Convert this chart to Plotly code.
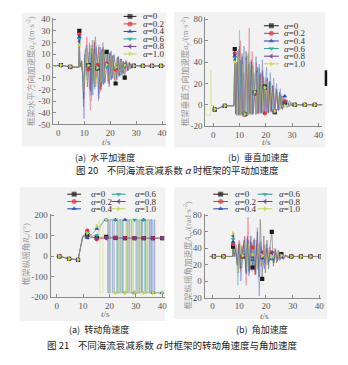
import plotly.graph_objects as go

W, H = 348, 365

alpha_labels = ["0", "0.2", "0.4", "0.6", "0.8", "1.0"]
colors = ["#1a1a1a", "#ef2f3c", "#2444b8", "#22a596", "#6a3b9f", "#c3d846"]
symbols = ["square", "circle", "triangle-up", "triangle-down", "triangle-left", "triangle-right"]

# ---------------- (a) horizontal acceleration ----------------
mark_t_a = [1, 4.6, 8.1, 11.6, 15.1, 18.6, 22.1, 25.6, 29.1, 32.6, 36.1, 39.6]
t_a0 = [-1.5, 1, 4.6, 7.9, 8.1, 8.3, 8.8, 9.4, 9.8, 10.2, 10.7, 11.2, 11.6, 12.0, 12.5, 13.0, 13.5, 14.0, 14.6, 15.1,
        15.6, 16.2, 16.8, 17.4, 18.0, 18.6, 19.2, 19.8, 20.4, 21.0, 21.6, 22.1, 22.7, 23.3, 23.9, 24.5, 25.0, 25.6,
        26.2, 26.8, 27.4, 28.0, 28.6, 29.1, 30.0, 32.6, 36.1, 39.6, 41]
v_a0 = [0, 0.8, -0.8, -1.2, 30, -1, 3, -8, -28, 6, 15, -18, 0.8, 12, -22, 18, -14, 20, -10, -2,
        16, -20, 14, -16, 10, 12, -13, 11, -12, 9, -10, -15, 7, -9, 6, -8, 4, -10,
        3, -4, 3, -2, 1, 0, 0.3, 0, 0, 0, 0]
t_a2 = [-1.5, 1, 4.6, 7.9, 8.1, 8.3, 8.9, 9.5, 10.0, 10.5, 11.0, 11.6, 12.4, 12.9, 13.4, 13.8, 14.4, 15.1, 15.7, 16.3,
        16.9, 17.5, 18.1, 18.6, 19.3, 19.9, 20.5, 21.1, 21.7, 22.1, 22.8, 23.4, 24.0, 24.6, 25.2, 25.6, 26.3, 27.0,
        27.7, 28.4, 29.1, 30.0, 32.6, 36.1, 39.6, 41]
v_a2 = [0, 0.6, -0.7, -1.1, 27, -1, 4, -6, -20, 8, 25, -3, -38, 10, -16, 22, -18, 1, 18, -22,
        15, -14, 12, 2, -15, 11, -10, 8, -12, -3, 7, -8, 6, -6, 4, 1, -5, 3,
        -3, 1, 0, 0.2, 0, 0, 0, 0]
t_a4 = [-1.5, 1, 4.6, 7.9, 8.1, 8.3, 9.0, 9.6, 9.9, 10.3, 10.9, 11.6, 12.1, 12.7, 13.3, 13.8, 14.3, 15.1, 15.6, 16.2,
        16.7, 17.2, 17.9, 18.6, 19.1, 19.7, 20.3, 20.9, 21.5, 22.1, 22.6, 23.2, 23.8, 24.4, 25.0, 25.6, 26.2, 26.9,
        27.6, 28.3, 29.1, 30.0, 32.6, 36.1, 39.6, 41]
v_a4 = [0, 0.7, -0.9, -1.3, 25, -1, 2, -10, -45, 12, 18, 0.5, -20, 15, -25, 10, 25, -1, -28, 16,
        -18, 20, -15, 1, 12, -16, 13, -11, 10, -2, -12, 8, -9, 6, -7, 1, 4, -4,
        2, -2, 0.5, 0, 0, 0, 0, 0]
t_a6 = [-1.5, 1, 4.6, 7.9, 8.1, 8.3, 9.1, 9.7, 10.4, 11.0, 11.6, 12.2, 12.8, 13.5, 14.1, 14.7, 15.1, 15.8, 16.5, 17.1,
        17.8, 18.6, 19.4, 20.0, 20.7, 21.4, 22.1, 22.9, 23.6, 24.3, 25.0, 25.6, 26.4, 27.2, 28.0, 29.1, 30.0, 32.6,
        36.1, 39.6, 41]
v_a6 = [0, 0.5, -0.8, -1.2, 23, -1, 5, -25, 14, -12, 0, 18, -30, 14, -20, 17, -2, -24, 13, -15,
        11, -1, 14, -12, 9, -10, -2, 8, -7, 5, -6, 0.5, 4, -3, 2, 0, 0, 0,
        0, 0, 0]
t_a8 = [-1.5, 1, 4.6, 7.9, 8.1, 8.3, 9.2, 9.7, 10.1, 10.8, 11.6, 12.0, 12.6, 13.2, 13.9, 14.5, 15.1, 15.5, 16.0, 16.6,
        17.3, 18.0, 18.6, 19.0, 19.6, 20.2, 20.8, 21.4, 22.1, 22.5, 23.1, 23.7, 24.3, 24.9, 25.6, 26.0, 26.7, 27.5,
        28.2, 29.1, 30.0, 32.6, 36.1, 39.6, 41]
v_a8 = [0, 0.6, -0.9, -1.1, 21, -1, 4, -35, 10, -8, -1, 20, -25, 22, -18, 15, -1, -30, 12, -20,
        16, -14, 1.5, 10, -18, 12, -10, 9, -1, -11, 8, -8, 6, -6, -0.5, 5, -4, 3,
        -1.5, 0.3, 0, 0, 0, 0, 0]
t_a10 = [-1.5, 1, 4.6, 7.9, 8.1, 8.3, 9.3, 9.9, 10.6, 11.2, 11.6, 12.3, 13.0, 13.6, 14.2, 14.9, 15.1, 15.9, 16.4, 17.0,
         17.7, 18.3, 18.6, 19.5, 20.1, 20.6, 21.2, 21.8, 22.1, 22.7, 23.5, 24.2, 24.8, 25.6, 26.5, 27.3, 28.1, 29.1,
         30.0, 32.6, 36.1, 39.6, 41]
v_a10 = [0, 0.7, -0.6, -1.0, 18, -1, 3, -22, 16, -14, 0.5, 12, 22, -20, 10, -16, -1.5, 14, -14, 12,
         -10, 8, 1, -12, 9, -9, 7, -8, -1, 6, -6, 5, -4, 0.5, 3, -2, 1, 0,
         0, 0, 0, 0, 0]

# ---------------- (b) vertical acceleration ----------------
mark_t_b = [0.6, 4.4, 8.2, 12.0, 15.8, 19.6, 23.4, 27.2, 31.0, 34.8, 38.6]
t_b0 = [0, 0.6, 4.4, 7.9, 8.2, 8.5, 9.0, 9.5, 10.0, 10.5, 11.0, 11.5, 12.0, 12.5, 13.0, 13.5, 14.0, 14.5, 15.0, 15.4,
        15.8, 16.3, 16.8, 17.3, 17.8, 18.3, 18.8, 19.2, 19.6, 20.1, 20.6, 21.1, 21.6, 22.1, 22.6, 23.0, 23.4, 24.0,
        24.6, 25.2, 25.8, 26.4, 27.2, 28.0, 28.8, 29.6, 31.0, 34.8, 38.6, 41.5]
v_b0 = [-1, -4.6, -1, -1, 52, -8, 40, -9, 55, -10, 45, -9, -9, 50, -10, 38, -8, 42, -9, 30,
        11.5, -9, 35, -8, 28, -7, 32, -7, 17, -8, 25, -7, 22, -6, 18, -5, -7, 15,
        -5, 12, -4, 8, 2, 5, -2, 2, 0, 0, 0, 0]
t_b2 = [0, 0.6, 4.4, 7.9, 8.2, 8.6, 9.2, 9.8, 10.4, 11.0, 11.6, 12.0, 12.6, 13.2, 13.7, 14.2, 14.8, 15.3, 15.8, 16.4,
        17.0, 17.6, 18.2, 18.8, 19.6, 20.2, 20.8, 21.4, 22.0, 22.6, 23.4, 24.1, 24.8, 25.5, 26.2, 27.2, 28.2, 29.2,
        31.0, 34.8, 38.6, 41.5]
v_b2 = [-1, -4.5, -1, -1, 48, -9, 38, -10, 60, -9, 30, -9, 45, -10, 72, -9, 50, -8, 10, 40,
        -8, 34, -8, 28, -8, 24, -7, 20, -6, 16, -6, 12, -5, 9, -4, 3, 1, -1,
        0, 0, 0, 0]
t_b4 = [0, 0.6, 4.4, 7.9, 8.2, 8.7, 9.3, 9.9, 10.5, 11.1, 11.7, 12.0, 12.7, 13.3, 13.9, 14.5, 15.1, 15.8, 16.3, 16.9,
        17.5, 18.1, 18.7, 19.3, 19.6, 20.3, 21.0, 21.7, 22.4, 23.0, 23.4, 24.1, 24.8, 25.5, 26.3, 27.2, 28.1, 29.0,
        30.0, 31.0, 34.8, 38.6, 41.5]
v_b4 = [-1, -4.4, -1, -1, 46, -9, 50, -10, 42, -9, 55, -8, -10, 48, -9, 40, -9, 12, 45, -9,
        38, -8, 42, -8, 15, 35, -8, 30, -7, 25, -6, 20, -6, 15, -5, 8, -3, 4,
        -1, 0, 0, 0, 0]
t_b6 = [0, 0.6, 4.4, 7.9, 8.2, 8.8, 9.4, 10.0, 10.6, 11.2, 11.8, 12.0, 12.8, 13.4, 14.0, 14.6, 15.2, 15.8, 16.5, 17.1,
        17.7, 18.4, 19.0, 19.6, 20.4, 21.1, 21.8, 22.5, 23.4, 24.2, 25.0, 25.8, 26.6, 27.2, 28.3, 29.5, 31.0, 34.8,
        38.6, 41.5]
v_b6 = [-1, -4.6, -1, -1, 44, -9, -10, 70, -9, 40, -9, -8, 46, -9, 36, -9, 40, 10, -8, 35,
        -8, 30, -7, 16, 26, -7, 22, -6, -5, 14, -5, 10, -3, 2, 3, 0, 0, 0,
        0, 0]
t_b8 = [0, 0.6, 4.4, 7.9, 8.2, 8.9, 9.6, 10.3, 11.0, 11.6, 12.0, 12.5, 13.1, 13.8, 14.4, 15.0, 15.8, 16.1, 16.7, 17.4,
        18.0, 18.6, 19.2, 19.6, 20.5, 21.2, 21.9, 22.7, 23.4, 24.3, 25.1, 26.0, 26.8, 27.2, 28.4, 29.6, 31.0, 34.8,
        38.6, 41.5]
v_b8 = [-1, -4.5, -1, -1, 42, -10, 52, -9, 48, -9, -9, 44, -10, 40, -9, 36, 11, -9, 32, -8,
        30, -8, 26, 17, -8, 22, -7, 18, -7, 12, -5, 8, -3, 2, 1, 0, 0, 0,
        0, 0]
t_b10 = [-2.8, -2.6, -1.0, -0.9, -0.6, 0.6, 4.4, 7.9, 8.2, 9.0, 9.7, 10.4, 11.1, 11.8, 12.0, 12.4, 13.0, 13.6, 14.3,
         15.0, 15.8, 16.2, 16.9, 17.6, 18.3, 19.0, 19.6, 20.6, 21.4, 22.2, 23.0, 23.4, 24.4, 25.3, 26.2, 27.2, 28.5,
         29.8, 31.0, 34.8, 38.6, 41.5]
v_b10 = [-1, -10, -10, 33, -2, -4.3, -1, -1, 40, -9, 45, -10, 38, -9, -9, 42, -9, 50, -9,
         34, 12, -8, 30, -8, 26, -7, 16, 22, -7, 18, -6, -6, 12, -5, 7, -1, 2,
         0, 0, 0, 0, 0]

# ---------------- (c) roll angle ----------------
mark_t_c = [1.0, 4.7, 8.1, 11.6, 15.2, 18.8, 22.3, 25.9, 29.5, 33.0, 36.5, 40.0]
t_c0 = [0, 1.0, 4.7, 8.1, 9.9, 11.6, 13.0, 15.2, 18.8, 22.3, 25.9, 29.5, 33.0, 36.5, 40.0]
v_c0 = [0, 0, -12, -17, 98, 105, 92, 90, 95, 90, 89, 89, 89, 89, 89]
t_c2 = [0, 1.0, 4.7, 8.1, 9.9, 11.6, 13.5, 15.2, 18.8, 22.3, 25.9, 29.5, 33.0, 36.5, 40.0]
v_c2 = [0, 0, -12, -17, 97, 125, 95, 83, 90, 90, 89, 89, 89, 89, 89]
t_c4 = [0, 1.0, 4.7, 8.1, 9.9, 11.6, 13.5, 15.2, 17.0, 18.5, 18.8,
        19.6, 19.6, 20.3, 20.3, 21.2, 21.2, 21.8, 21.8, 22.3,
        23.0, 23.0, 23.6, 23.6, 24.4, 24.4, 25.0, 25.0, 25.9,
        26.8, 26.8, 27.4, 27.4, 28.3, 28.3, 29.5,
        30.1, 30.1, 30.9, 30.9, 31.5, 31.5, 32.2, 32.2, 32.6, 32.6, 33.0,
        33.7, 33.7, 34.3, 34.3, 35.1, 35.1, 35.7, 35.7, 36.2, 36.2, 36.5,
        36.9, 36.9, 37.2, 37.2, 40.0]
v_c4 = [0, 0, -12, -17, 99, 90, 110, 135, 160, 178, 178,
        178, -178, -178, 178, 178, -178, -178, 178, 178,
        178, -178, -178, 178, 178, -178, -178, 178, 178,
        178, -178, -178, 178, 178, -178, -178,
        -178, 178, 178, -178, -178, 178, 178, -178, -178, 178, 178,
        178, -178, -178, 178, 178, -178, -178, 178, 178, -178, -178,
        -178, 178, 178, -178, -178]
t_c6 = [0, 1.0, 4.7, 8.1, 9.9, 11.6, 13.5, 15.2, 16.8, 18.0, 18.8,
        19.3, 19.3, 20.0, 20.0, 22.3, 22.8, 22.8, 24.1, 24.1, 25.2, 25.2, 25.9,
        26.3, 26.3, 27.6, 27.6, 29.0, 29.0, 29.5,
        30.5, 30.5, 32.0, 32.0, 33.0, 33.3, 33.3, 35.3, 35.3, 36.0, 36.0, 36.5, 40.0]
v_c6 = [0, 0, -12, -17, 98, 115, 100, 103, 150, 178, 178,
        178, -178, -178, 178, 178, 178, -178, -178, 178, 178, -178, -178,
        -178, 178, 178, -178, -178, 178, 178,
        178, -178, -178, 178, 178, 178, -178, -178, 178, 178, -178, -178, -178]
t_c8 = [0, 1.0, 4.7, 8.1, 9.9, 11.6, 13.5, 15.2, 18.8, 22.3, 25.9, 29.5, 33.0, 36.5, 40.0]
v_c8 = [0, 0, -12, -17, 96, 92, 94, 88, 88, 88, 88, 88, 88, 88, 88]
t_c10 = [0, 1.0, 4.7, 8.1, 9.9, 11.6, 13.5, 15.2, 16.3,
         16.4, 16.4, 17.5, 17.5, 18.8,
         19.9, 19.9, 20.7, 20.7, 21.5, 21.5, 22.3,
         23.3, 23.3, 24.0, 24.0, 24.7, 24.7, 25.4, 25.4, 25.9,
         26.5, 26.5, 27.0, 27.0, 27.8, 27.8, 28.8, 28.8, 29.5,
         31.2, 31.2, 31.8, 31.8, 33.0,
         34.0, 34.0, 34.6, 34.6, 36.5, 40.0]
v_c10 = [0, 0, -12, -17, 100, 112, 130, 148, 178,
         178, -178, -178, 178, 178,
         178, -178, -178, 178, 178, -178, -178,
         -178, 178, 178, -178, -178, 178, 178, -178, -178,
         -178, 178, 178, -178, -178, 178, 178, -178, -178,
         -178, 178, 178, -178, -178,
         -178, 178, 178, -178, -178, -178]

# ---------------- (d) angular acceleration ----------------
mark_t_d = [0.5, 4.1, 7.7, 11.3, 15.0, 18.6, 22.2, 25.8, 29.5, 33.1, 36.7, 40.3]
t_d0 = [-1, 0.5, 4.1, 7.5, 7.7, 8.0, 8.6, 9.2, 9.8, 10.4, 11.0, 11.3, 11.9, 12.5, 13.1, 13.7, 14.3, 15.0, 15.6, 16.2,
        16.8, 17.4, 17.9, 18.6, 19.2, 19.8, 20.4, 21.0, 21.6, 22.2, 22.8, 23.4, 24.0, 24.6, 25.2, 25.8, 26.5, 27.2,
        28.0, 29.5, 33.1, 36.7, 40.3]
v_d0 = [30, 30, 30, 30, 42, 30, 38, 20, 45, 15, 42, 30, 50, 10, 55, 12, 48, 16.6, 52, 8,
        60, 5, 75, 2.7, 55, 10, 50, 15, 45, 60, 18, 40, 22, 38, 25, 33, 27, 32,
        29, 30, 30, 30, 30]
t_d2 = [-1, 0.5, 4.1, 7.5, 7.7, 8.1, 8.7, 9.3, 9.9, 10.5, 11.1, 11.3, 12.0, 12.6, 13.3, 13.9, 14.5, 15.0, 15.7, 16.3,
        16.9, 17.5, 18.2, 18.6, 19.3, 20.0, 20.7, 21.4, 22.2, 22.9, 23.6, 24.3, 25.0, 25.8, 26.6, 27.4, 28.2, 29.5,
        33.1, 36.7, 40.3]
v_d2 = [30, 30, 30, 30, 45, 30, 40, 18, 50, 12, 44, 30, 55, -5, 78, 10, 55, 41, 8, 50,
        14, 46, 18, 30, 44, 20, 40, 24, 35, 22, 37, 25, 34, 30, 28, 31, 29, 30,
        30, 30, 30]
t_d4 = [-1, 0.5, 4.1, 7.5, 7.7, 8.2, 8.8, 9.4, 10.0, 10.6, 11.3, 11.8, 12.4, 13.0, 13.6, 14.2, 14.8, 15.0, 15.5, 16.1,
        16.8, 17.5, 18.1, 18.6, 19.4, 20.1, 20.8, 21.5, 22.2, 22.9, 23.6, 24.3, 25.1, 25.8, 26.6, 27.5, 28.4, 29.5,
        33.1, 36.7, 40.3]
v_d4 = [30, 30, 30, 30, 48, 30, 35, 22, 46, 0, 30, 48, 15, 52, 6, 55, 12, 26, 50, 8,
        65, -18, 48, 28, 15, 45, 20, 42, 27, 22, 38, 24, 36, 29, 26, 32, 29, 30,
        30, 30, 30]
t_d6 = [-1, 0.5, 4.1, 7.5, 7.7, 8.3, 8.9, 9.5, 10.1, 10.7, 11.3, 11.9, 12.6, 13.2, 13.8, 14.4, 15.0, 15.7, 16.4, 17.1,
        17.8, 18.6, 19.3, 20.0, 20.8, 21.5, 22.2, 23.0, 23.8, 24.6, 25.8, 26.7, 27.6, 28.5, 29.5, 33.1, 36.7, 40.3]
v_d6 = [30, 30, 30, 30, 51, 30, 40, -5, 45, 15, 32, 50, 12, 48, 10, 46, 28, 14, 44, 18,
        42, 30, 20, 40, 22, 38, 27, 24, 35, 26, 31, 28, 31, 30, 30, 30, 30, 30]
t_d8 = [-1, 0.5, 4.1, 7.5, 7.7, 8.4, 9.0, 9.6, 10.2, 10.8, 11.3, 12.1, 12.8, 13.5, 14.1, 14.7, 15.0, 15.8, 16.5, 17.2,
        17.9, 18.6, 19.5, 20.3, 21.0, 21.7, 22.2, 23.1, 23.9, 24.7, 25.8, 26.8, 27.7, 28.6, 29.5, 33.1, 36.7, 40.3]
v_d8 = [30, 30, 30, 30, 55, 30, 44, 10, 48, 16, 30, 54, 8, 50, 14, 47, 30, 12, 45, 16,
        43, 35, 22, 39, 24, 36, 34, 25, 34, 27, 31, 28, 31, 29, 30, 30, 30, 30]
t_d10 = [-1, 0.5, 4.1, 7.5, 7.7, 8.5, 9.1, 9.7, 10.3, 10.9, 11.3, 12.2, 12.9, 13.6, 14.3, 15.0, 15.9, 16.6, 17.3, 18.0,
         18.6, 19.6, 20.4, 21.2, 22.2, 23.2, 24.1, 25.0, 25.8, 26.9, 27.9, 29.5, 33.1, 36.7, 40.3]
v_d10 = [30, 30, 30, 30, 58, 30, 42, 12, 46, 18, 31, 48, 15, 46, 18, 32, 44, 17, 42, 20,
         31, 40, 22, 37, 30, 25, 35, 27, 31, 29, 31, 30, 30, 30, 30]

# tick values / labels
x_ticks = [0, 10, 20, 30, 40]
x_ticklab = ["0", "10", "20", "30", "40"]
y_ticks_a = [-50, -40, -30, -20, -10, 0, 10, 20, 30, 40]
y_ticks_b = [-20, 0, 20, 40, 60, 80]
y_ticks_c = [-200, -100, 0, 100, 200]
y_ticks_d = [-20, 0, 20, 40, 60, 80]

# ---------------- figure ----------------
def PX(x):
    return x / W


def PY(y):
    return 1 - y / H


fig = go.Figure()

panels = [
    ("x", "y", [(t_a0, v_a0), (t_a2, v_a2), (t_a4, v_a4), (t_a6, v_a6), (t_a8, v_a8), (t_a10, v_a10)], mark_t_a),
    ("x2", "y2", [(t_b0, v_b0), (t_b2, v_b2), (t_b4, v_b4), (t_b6, v_b6), (t_b8, v_b8), (t_b10, v_b10)], mark_t_b),
    ("x3", "y3", [(t_c0, v_c0), (t_c2, v_c2), (t_c4, v_c4), (t_c6, v_c6), (t_c8, v_c8), (t_c10, v_c10)], mark_t_c),
    ("x4", "y4", [(t_d0, v_d0), (t_d2, v_d2), (t_d4, v_d4), (t_d6, v_d6), (t_d8, v_d8), (t_d10, v_d10)], mark_t_d),
]

for xa, ya, series, marks in panels:
    mset = set(round(m, 3) for m in marks)
    for k, (t, v) in enumerate(series):
        fig.add_trace(go.Scatter(x=t, y=v, mode="lines", xaxis=xa, yaxis=ya,
                                 line=dict(color=colors[k], width=0.75), opacity=0.5,
                                 showlegend=False, hoverinfo="skip"))
    for k, (t, v) in enumerate(series):
        seen = set()
        mx, my = [], []
        for a, b in zip(t, v):
            r = round(a, 3)
            if r in mset and r not in seen:
                seen.add(r)
                mx.append(a)
                my.append(b)
        fig.add_trace(go.Scatter(x=mx, y=my, mode="markers", xaxis=xa, yaxis=ya,
                                 marker=dict(symbol=symbols[k], size=4.2, color=colors[k], line=dict(width=0)),
                                 showlegend=False, hoverinfo="skip"))

# ---------------- custom legends (overlay axis in pixel units) ----------------
annotations = []
legend_specs = [
    dict(x0=125, x1=138, tx=143, y0=12.7, dy=7.7, rows=6, colx=0),
    dict(x0=267, x1=282, tx=285.7, y0=22.3, dy=7.8, rows=6, colx=0),
    dict(x0=68, x1=82, tx=90, y0=195, dy=7.5, rows=3, colx=45),
    dict(x0=215.7, x1=230.7, tx=235.7, y0=195, dy=7.5, rows=3, colx=45),
]
for spec in legend_specs:
    for k in range(6):
        col, row = divmod(k, spec["rows"])
        off = col * spec["colx"]
        y = spec["y0"] + row * spec["dy"]
        x0, x1 = spec["x0"] + off, spec["x1"] + off
        fig.add_trace(go.Scatter(x=[x0, (x0 + x1) / 2, x1], y=[y, y, y], mode="lines+markers",
                                 xaxis="x5", yaxis="y5",
                                 line=dict(color=colors[k], width=1),
                                 marker=dict(symbol=symbols[k], size=[0, 5, 0], color=colors[k], line=dict(width=0)),
                                 showlegend=False, hoverinfo="skip"))
        annotations.append(dict(x=spec["tx"] + off, y=y, xref="x5", yref="y5", showarrow=False,
                                xanchor="left", yanchor="middle",
                                text="<i>α</i>=" + alpha_labels[k],
                                font=dict(family="Liberation Serif", size=9, color="#333")))

# ---------------- axes ----------------
tick_font = dict(family="Liberation Serif", size=9, color="#555")
common = dict(showline=True, linecolor="#8a8a8a", linewidth=1, ticks="inside", ticklen=3,
              tickcolor="#8a8a8a", tickwidth=1, tickfont=tick_font, showgrid=False,
              zeroline=False, fixedrange=True, tickmode="array")


def xax(d0, d1, r, anchor):
    return dict(common, domain=[PX(d0), PX(d1)], range=r, anchor=anchor,
                tickvals=x_ticks, ticktext=x_ticklab)


def yax(d0, d1, r, anchor, ticks):
    return dict(common, domain=[PY(d1), PY(d0)], range=r, anchor=anchor,
                tickvals=ticks, ticktext=[str(v) for v in ticks])


layout = dict(
    width=W, height=H, autosize=False,
    margin=dict(l=0, r=0, t=0, b=0, pad=0),
    paper_bgcolor="white", plot_bgcolor="rgba(0,0,0,0)",
    showlegend=False,
    xaxis=xax(53.75, 167.9, [-2, 41.5], "y"),
    yaxis=yax(14.3, 123.5, [-50, 41], "x", y_ticks_a),
    xaxis2=xax(207.7, 326.1, [-3, 41.5], "y2"),
    yaxis2=yax(13.5, 125.2, [-20, 82], "x2", y_ticks_b),
    xaxis3=xax(51.2, 166.7, [-2.3, 41], "y3"),
    yaxis3=yax(215.6, 300.7, [-200, 205], "x3", y_ticks_c),
    xaxis4=xax(206.9, 324.4, [-3, 40.5], "y4"),
    yaxis4=yax(215, 301, [-20, 82], "x4", y_ticks_d),
    xaxis5=dict(domain=[0, 1], range=[0, W], visible=False, anchor="y5", fixedrange=True),
    yaxis5=dict(domain=[0, 1], range=[H, 0], visible=False, anchor="x5", fixedrange=True),
)

shapes = []
for (x0, y0, x1, y1) in [(22, 9, 168, 146), (176, 8, 329, 147), (20, 188, 167, 325), (176, 188, 331, 323)]:
    shapes.append(dict(type="rect", xref="paper", yref="paper", x0=PX(x0), x1=PX(x1), y0=PY(y1), y1=PY(y0),
                       fillcolor="#f2f2f2", line=dict(width=0), layer="below"))
shapes.append(dict(type="rect", xref="paper", yref="paper", x0=PX(328.5), x1=PX(331), y0=PY(84), y1=PY(68),
                   fillcolor="#111", line=dict(width=0), layer="above"))
layout["shapes"] = shapes

title_font = dict(family="Liberation Serif, Noto Sans CJK SC", size=8.5, color="#9a9a9a")
ytitles = [
    (31, 69, "框架水平方向加速度<i>a</i><sub>x</sub>/(m·s<sup>-2</sup>)"),
    (187, 69, "框架垂直方向加速度<i>a</i><sub>y</sub>/(m·s<sup>-2</sup>)"),
    (27, 257, "框架纵摇角<i>R</i><sub>y</sub>/(°)"),
    (190, 258, "框架纵摇角加速度<i>A</i><sub>ry</sub>/(rad·s<sup>-2</sup>)"),
]
for x, y, txt in ytitles:
    annotations.append(dict(x=x, y=y, xref="x5", yref="y5", showarrow=False, textangle=-90,
                            xanchor="center", yanchor="middle", text=txt, font=title_font))

xt_font = dict(family="Liberation Serif", size=9, color="#666")
for x, y in [(108, 141), (270, 141), (107, 318), (268, 320)]:
    annotations.append(dict(x=x, y=y, xref="x5", yref="y5", showarrow=False, xanchor="center",
                            yanchor="middle", text="<i>t</i>/s", font=xt_font))

cap_font = dict(family="Noto Sans CJK SC", size=9, color="#222")
fig_font = dict(family="Noto Sans CJK SC", size=9.5, color="#222")
captions = [
    (106, 157, "(a)  水平加速度", cap_font),
    (262, 157, "(b)  垂直加速度", cap_font),
    (180, 170, "图 20    不同海流衰减系数 <i>α</i> 时框架的平动加速度", fig_font),
    (100, 334, "(a)  转动角速度", cap_font),
    (265, 334, "(b)  角加速度", cap_font),
    (174, 350, "图 21    不同海流衰减系数 <i>α</i> 时框架的转动角速度与角加速度", fig_font),
]
for x, y, txt, f in captions:
    annotations.append(dict(x=x, y=y, xref="x5", yref="y5", showarrow=False, xanchor="center",
                            yanchor="middle", text=txt, font=f))

layout["annotations"] = annotations
fig.update_layout(**layout)
fig.write_html("out.html")
